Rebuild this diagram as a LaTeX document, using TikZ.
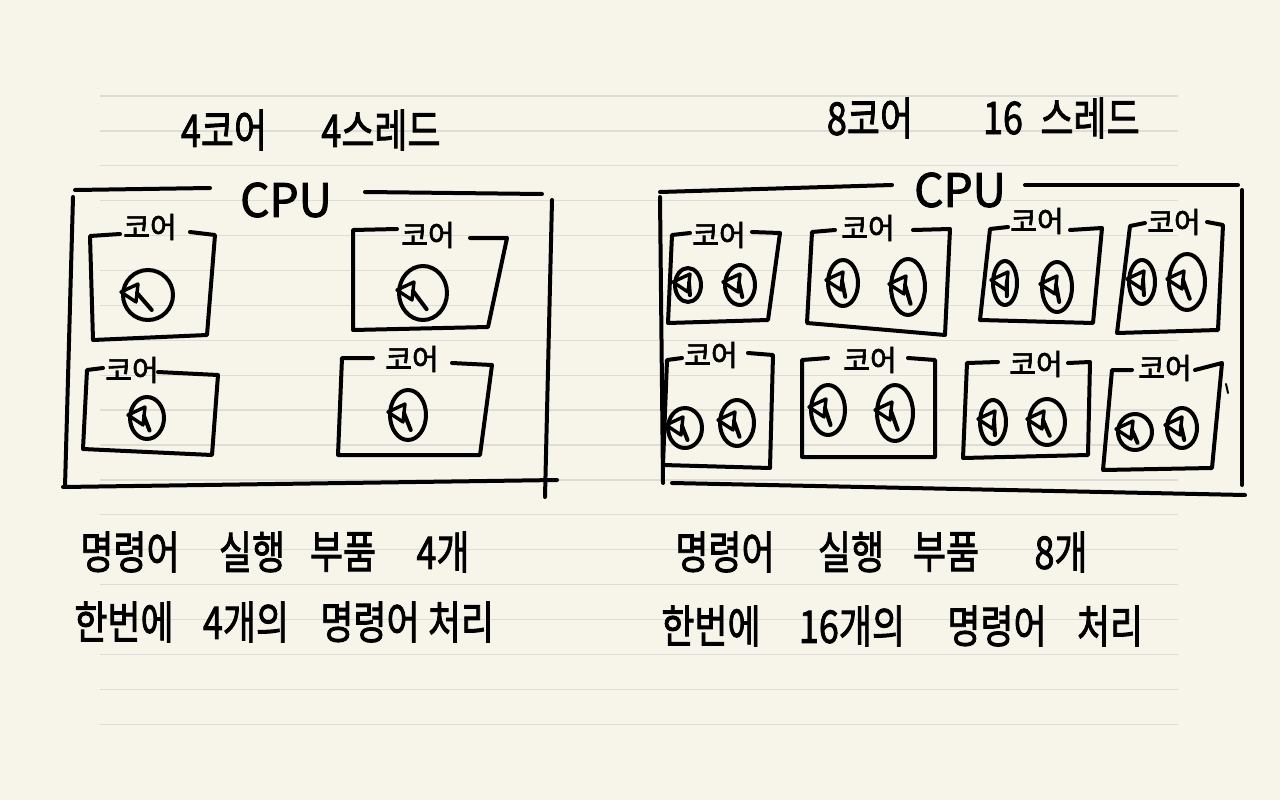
\documentclass[tikz,border=0pt]{standalone}
\usepackage{fontspec}
\usepackage{graphicx}
\setmainfont{Noto Sans CJK KR}[FakeBold=2]
\definecolor{paper}{RGB}{247,245,234}
\definecolor{ruleline}{RGB}{222,220,212}
\newcommand\hw[1]{\scalebox{1}[1.25]{#1}}
% thread: ellipse with an arrow whose open triangular head sits on the left side
\newcommand\thr[4]{%
  \draw[pen] (#1,#2) ellipse [x radius=#3, y radius=#4];
  \draw[pen, line width=3.4pt] ({#1-#3-2},{#2-3}) -- ({#1-#3+15},{#2-11}) -- ({#1-#3+13},{#2+7}) -- cycle;
  \draw[pen] ({#1-#3+14},{#2-2}) -- ({#1+0.15*#3},{#2+0.6*#4});}
\begin{document}
\begin{tikzpicture}[x=1pt,y=-1pt,
  pen/.style={line width=4pt, line cap=round, line join=round, black},
  corelbl/.style={inner sep=0pt, font=\fontsize{29}{30}\selectfont},
  cpulbl/.style={inner sep=0pt, font=\fontsize{46}{48}\selectfont},
  title/.style={inner sep=0pt, font=\fontsize{36}{38}\selectfont},
  note/.style={inner sep=0pt, font=\fontsize{36}{38}\selectfont}]
\useasboundingbox (0,0) rectangle (1280,800);
\fill[paper] (0,0) rectangle (1280,800);
\foreach \k in {0,...,18}
  \draw[ruleline, line width=1.3pt] (100,{96+34.9*\k}) -- (1178,{96+34.9*\k});

% ---------- titles ----------
\node[title] (t1a) at (224,130) {\hw{4코어}};
\node[title] (t1b) at (381,130) {\hw{4스레드}};
\node[title] (t2a) at (870,118) {\hw{8코어}};
\node[title] (t2b) at (1003,118) {\hw{16}};
\node[title] (t2c) at (1090,118) {\hw{스레드}};

% ---------- left CPU ----------
\node[cpulbl] (cpuL) at (286,200) {CPU};
\draw[pen] (210,188) -- (75,190);
\draw[pen] (73,197) -- (65,487);
\draw[pen] (63,487) -- (557,480);
\draw[pen] (545,497) -- (552,200);
\draw[pen] (542,194) -- (365,192);

\node[corelbl] (L1) at (150,227) {코어};
\draw[pen] (120,234) -- (90,236) -- (93,340) -- (207,335) -- (215,235) -- (190,232);
\thr{148}{295}{25}{25}
\node[corelbl] (L2) at (428,235) {코어};
\draw[pen] (397,229) -- (353,230) -- (353,330) -- (488,327) -- (507,238) -- (470,238);
\thr{423}{293}{24}{27}
\node[corelbl] (L3) at (132,370) {코어};
\draw[pen] (103,368) -- (87,370) -- (83,449) -- (212,455) -- (218,375) -- (158,372);
\thr{147}{418}{17}{21}
\node[corelbl] (L4) at (412,359) {코어};
\draw[pen] (373,358) -- (342,358) -- (338,455) -- (480,455) -- (492,365) -- (452,363);
\thr{408}{415}{18}{25}

% ---------- right CPU ----------
\node[cpulbl] (cpuR) at (960,190) {CPU};
\draw[pen] (892,185) -- (660,192);
\draw[pen] (660,197) -- (663,483);
\draw[pen] (672,483) -- (1245,495);
\draw[pen] (1242,485) -- (1242,190);
\draw[pen] (1238,185) -- (1025,185);

\node[corelbl] (R1) at (719,235) {코어};
\draw[pen] (690,233) -- (672,235) -- (668,323) -- (768,320) -- (780,233) -- (752,232);
\thr{688}{285}{13}{17}
\thr{740}{285}{15}{20}
\node[corelbl] (R2) at (868,228) {코어};
\draw[pen] (835,230) -- (812,232) -- (807,323) -- (945,335) -- (950,229) -- (913,230);
\thr{843}{283}{15}{23}
\thr{908}{287}{17}{28}
\node[corelbl] (R3) at (1037,221) {코어};
\draw[pen] (1008,227) -- (990,229) -- (980,320) -- (1093,323) -- (1102,228) -- (1070,230);
\thr{1005}{283}{12}{22}
\thr{1057}{287}{15}{25}
\node[corelbl] (R4) at (1174,222) {코어};
\draw[pen] (1145,223) -- (1130,226) -- (1117,333) -- (1218,330) -- (1223,225) -- (1207,222);
\thr{1142}{282}{13}{22}
\thr{1187}{282}{18}{28}
\node[corelbl] (R5) at (711,355) {코어};
\draw[pen] (682,358) -- (667,360) -- (663,465) -- (770,468) -- (773,355) -- (748,353);
\thr{685}{428}{17}{20}
\thr{737}{423}{17}{23}
\node[corelbl] (R6) at (870,360) {코어};
\draw[pen] (828,358) -- (802,360) -- (802,457) -- (935,457) -- (935,360) -- (908,358);
\thr{828}{410}{17}{25}
\thr{895}{413}{18}{28}
\node[corelbl] (R7) at (1036,364) {코어};
\draw[pen] (998,362) -- (967,363) -- (963,458) -- (1088,455) -- (1090,362) -- (1068,363);
\thr{993}{422}{13}{22}
\thr{1047}{422}{18}{23}
\node[corelbl] (R8) at (1165,368) {코어};
\draw[pen] (1132,370) -- (1112,370) -- (1103,470) -- (1212,468) -- (1222,363) -- (1195,370);
\thr{1135}{432}{17}{18}
\thr{1182}{428}{15}{20}
\draw[pen, line width=2pt] (1226,384) -- (1228,393);

% ---------- notes ----------
\node[note] (n1a) at (130,552) {\hw{명령어}};
\node[note] (n1b) at (252,552) {\hw{실행}};
\node[note] (n1c) at (343,552) {\hw{부품}};
\node[note] (n1d) at (443,552) {\hw{4개}};
\node[note] (n2a) at (124,622) {\hw{한번에}};
\node[note] (n2b) at (246,622) {\hw{4개의}};
\node[note] (n2c) at (370,622) {\hw{명령어}};
\node[note] (n2d) at (461,622) {\hw{처리}};

\node[note] (m1a) at (725,552) {\hw{명령어}};
\node[note] (m1b) at (851,552) {\hw{실행}};
\node[note] (m1c) at (946,552) {\hw{부품}};
\node[note] (m1d) at (1061,552) {\hw{8개}};
\node[note] (m2a) at (711,626) {\hw{한번에}};
\node[note] (m2b) at (852,626) {\hw{16개의}};
\node[note] (m2c) at (997,626) {\hw{명령어}};
\node[note] (m2d) at (1110,626) {\hw{처리}};
\end{tikzpicture}
\end{document}
